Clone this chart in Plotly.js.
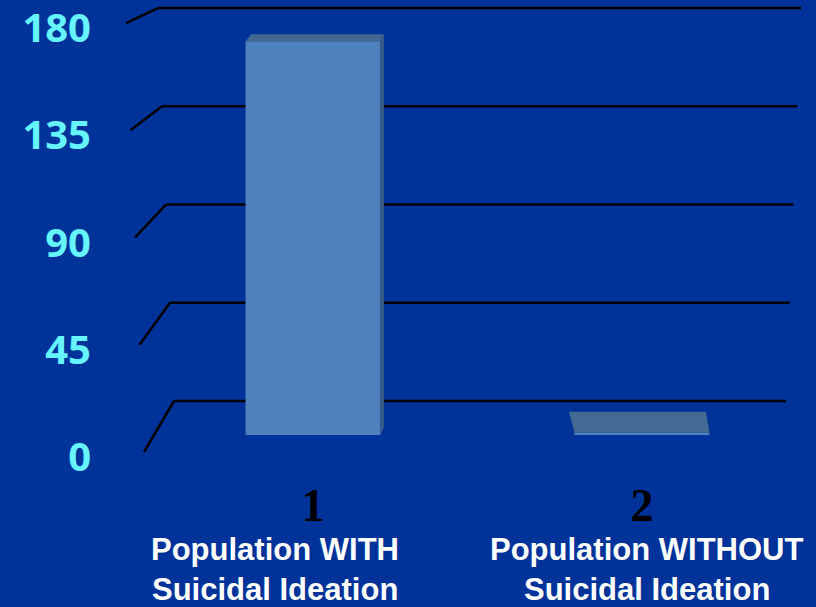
<!DOCTYPE html>
<html>
<head>
<meta charset="utf-8">
<script src="https://cdn.plot.ly/plotly-3.0.1.min.js"></script>
<style>html,body{margin:0;padding:0;background:#003399;}#chart{width:816px;height:607px;}</style>
</head>
<body>
<div id="chart"></div>
<script>
// ---- data ----
const categoryNumbers = ['1', '2'];
const categoryLine1 = ['Population WITH', 'Population WITHOUT'];
const categoryLine2 = ['Suicidal Ideation', 'Suicidal Ideation'];
const values = [170, 1];
const yTickValues = [0, 45, 90, 135, 180];
const yTickLabels = ['0', '45', '90', '135', '180'];

// ---- geometry / style constants ----
const W = 816, H = 607;
const M = {l: 100, r: 0, t: 0, b: 137};
const plotW = W - M.l - M.r, plotH = H - M.t - M.b;
const frontPxPerUnit = 2.3833, barPxPerUnit = 2.3167;
const yRange = [-(H - M.b - 452) / frontPxPerUnit, 0];
yRange[1] = yRange[0] + plotH / frontPxPerUnit;
const y2Range = [-(H - M.b - 435) / barPxPerUnit, 0];
y2Range[1] = y2Range[0] + plotH / barPxPerUnit;
const xRange = [0.3526, 0.3526 + plotW / 329];
const xPos = categoryNumbers.map((_, i) => i + 1);
const barW = 0.41;

const pxToPaperX = px => (px - M.l) / plotW;
const pxToPaperY = py => 1 - (py - M.t) / plotH;
const xUnitsPerPx = (xRange[1] - xRange[0]) / plotW;
const y2UnitsPerPx = (y2Range[1] - y2Range[0]) / plotH;
const backY = v => 21.4 + 0.916 * v;         // back wall in front-axis units
const frontXpx = v => 144 - v * 0.1;
const backLeftPx = v => 174 - v * 16 / 180;
const rightPx = v => 786 + v * 15 / 180;
const vanishX = 1.508;

const shapes = [];
yTickValues.forEach(v => {
  shapes.push({type: 'line', layer: 'below', xref: 'paper', yref: 'y',
    x0: pxToPaperX(backLeftPx(v)), x1: pxToPaperX(rightPx(v)), y0: backY(v), y1: backY(v),
    line: {color: '#000000', width: 2.5}});
  shapes.push({type: 'line', layer: 'below', xref: 'paper', yref: 'y',
    x0: pxToPaperX(frontXpx(v)), x1: pxToPaperX(backLeftPx(v)), y0: v, y1: backY(v),
    line: {color: '#000000', width: 2.5}});
});

// 3D faces of the bars, derived from the values
values.forEach((v, i) => {
  const xc = xPos[i];
  const xl = xc - barW / 2, xr = xc + barW / 2;
  const dx = (vanishX - xc) * 0.035 * 329 * xUnitsPerPx;
  const dyTop = (21 - 15 * v / 180) * y2UnitsPerPx;
  const dyBot = 8 * y2UnitsPerPx;
  shapes.push({type: 'path', xref: 'x', yref: 'y2', layer: 'above',
    path: `M${xl},${v} L${xr},${v} L${xr + dx * 0.6},${v + dyTop} L${xl + dx},${v + dyTop} Z`,
    fillcolor: i === 0 ? '#43688F' : '#426A93', line: {width: 0}});
  const sx = dx > 0 ? xr : xl;
  if (v > 5) {
    shapes.push({type: 'path', xref: 'x', yref: 'y2', layer: 'above',
      path: `M${sx},${v} L${sx + dx * 0.6},${v + dyTop} L${sx + dx * 0.6},${dyBot} L${sx},0 Z`,
      fillcolor: '#385C86', line: {width: 0}});
  }
});

const labelFont = {family: 'Liberation Sans Narrow, Arial Narrow, sans-serif', size: 31, color: '#FFFFFF', weight: 'bold'};
const labelShift = [-38, 5];
const annotations = [];
xPos.forEach((x, i) => {
  annotations.push({text: categoryLine1[i], xref: 'x', yref: 'paper', x: x, y: pxToPaperY(549),
    xshift: labelShift[i], yanchor: 'middle', showarrow: false, borderpad: 0, font: labelFont});
  annotations.push({text: categoryLine2[i], xref: 'x', yref: 'paper', x: x, y: pxToPaperY(589),
    xshift: labelShift[i], yanchor: 'middle', showarrow: false, borderpad: 0, font: labelFont});
});

const trace = {
  type: 'bar', x: xPos, y: values, yaxis: 'y2', width: barW,
  marker: {color: '#4F81BD', line: {width: 0}}, hoverinfo: 'skip'
};

const layout = {
  width: W, height: H, margin: M,
  paper_bgcolor: '#003399', plot_bgcolor: '#003399',
  showlegend: false,
  xaxis: {range: xRange, tickvals: xPos, ticktext: categoryNumbers, showgrid: false, zeroline: false,
    showline: false, ticks: '', ticklabelstandoff: 4,
    tickfont: {family: 'Liberation Serif, Times New Roman, serif', size: 46, color: '#000000', weight: 'bold'}},
  yaxis: {range: yRange, tickvals: yTickValues, ticktext: yTickLabels, showgrid: false, zeroline: false,
    showline: false, ticks: '', ticklabelstandoff: 8, ticklabelshift: 5, ticklabeloverflow: 'allow',
    tickfont: {family: 'Open Sans, sans-serif', size: 40, color: '#66F4FF', weight: 'bold'}},
  yaxis2: {range: y2Range, overlaying: 'y', visible: false, showgrid: false, zeroline: false},
  shapes: shapes, annotations: annotations
};

Plotly.newPlot('chart', [trace], layout, {displayModeBar: false, staticPlot: true});
</script>
</body>
</html>
